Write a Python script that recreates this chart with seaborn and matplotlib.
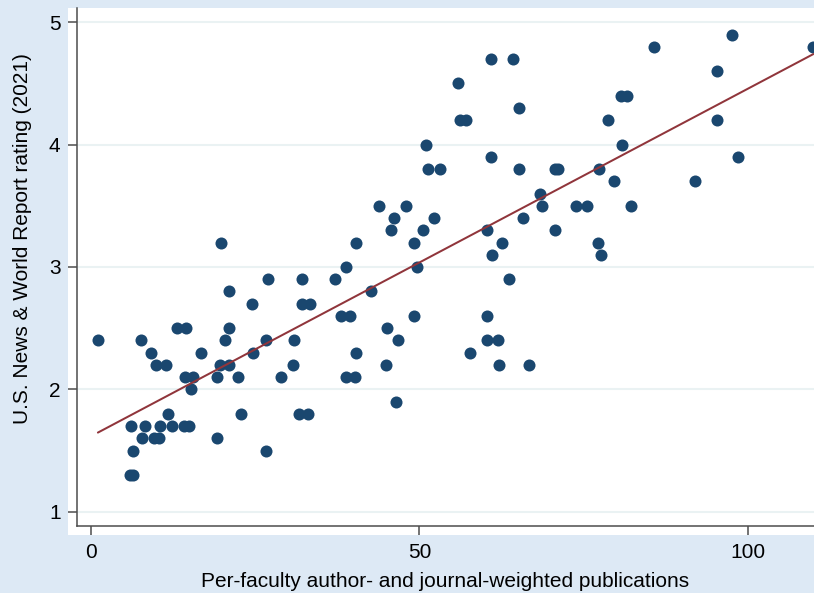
import numpy as np
import pandas as pd
import matplotlib
matplotlib.use("Agg")
import matplotlib.pyplot as plt
from matplotlib.patches import Rectangle
import seaborn as sns

# per-faculty weighted publications (x) and US News rating (y)
pubs = [1.1, 7.6, 9.1, 10.0, 11.5, 13.1, 14.5, 16.8, 21.0, 24.6,
        20.4, 21.0, 19.7, 21.1, 14.3, 15.6, 15.3, 19.2, 22.4, 24.7,
        26.6, 26.9, 32.2, 37.2, 32.2, 33.3, 28.9, 30.7, 30.9, 31.7,
        33.1, 22.8, 19.2, 26.7, 38.0, 39.5, 42.7, 38.9, 40.2, 40.4,
        45.0, 46.8, 44.9, 46.4, 49.1, 6.1, 8.3, 11.7, 10.6, 12.3,
        14.2, 15.0, 7.8, 9.7, 10.4, 6.5, 6.0, 6.4, 19.8, 51.0,
        51.3, 53.1, 60.9, 65.1, 56.1, 57.1, 43.9, 47.9, 46.1, 52.2,
        45.7, 50.5, 40.3, 49.2, 38.9, 49.6, 60.2, 62.6, 61.1, 63.6,
        65.7, 68.4, 68.6, 70.6, 70.6, 71.1, 60.2, 60.2, 61.9, 57.7,
        62.1, 66.6, 60.9, 64.3, 55.9, 65.2, 77.3, 78.7, 80.7, 81.5,
        80.8, 79.6, 85.6, 97.5, 109.9, 95.3, 95.3, 98.5, 91.9, 82.1,
        73.8, 75.5, 77.2, 77.6]
rating = [2.4, 2.4, 2.3, 2.2, 2.2, 2.5, 2.5, 2.3, 2.8, 2.7,
          2.4, 2.5, 2.2, 2.2, 2.1, 2.1, 2.0, 2.1, 2.1, 2.3,
          2.4, 2.9, 2.9, 2.9, 2.7, 2.7, 2.1, 2.2, 2.4, 1.8,
          1.8, 1.8, 1.6, 1.5, 2.6, 2.6, 2.8, 2.1, 2.1, 2.3,
          2.5, 2.4, 2.2, 1.9, 2.6, 1.7, 1.7, 1.8, 1.7, 1.7,
          1.7, 1.7, 1.6, 1.6, 1.6, 1.5, 1.3, 1.3, 3.2, 4.0,
          3.8, 3.8, 3.9, 3.8, 4.2, 4.2, 3.5, 3.5, 3.4, 3.4,
          3.3, 3.3, 3.2, 3.2, 3.0, 3.0, 3.3, 3.2, 3.1, 2.9,
          3.4, 3.6, 3.5, 3.3, 3.8, 3.8, 2.6, 2.4, 2.4, 2.3,
          2.2, 2.2, 4.7, 4.7, 4.5, 4.3, 3.8, 4.2, 4.4, 4.4,
          4.0, 3.7, 4.8, 4.9, 4.8, 4.6, 4.2, 3.9, 3.7, 3.5,
          3.5, 3.5, 3.2, 3.1]
x_ticks = [0, 50, 100]
y_ticks = [1, 2, 3, 4, 5]
x_title = "Per-faculty author- and journal-weighted publications"
y_title = "U.S. News & World Report rating (2021)"

df = pd.DataFrame({"pubs": pubs, "rating": rating})

sns.set_theme(style="white")
plt.rcParams["font.family"] = ["Liberation Sans", "DejaVu Sans"]

W, H = 814, 593
BG = "#dde9f5"
fig = plt.figure(figsize=(W / 100, H / 100), dpi=100, facecolor=BG)
# white plot region (a bit larger than the axes, Stata style)
fig.patches.append(Rectangle((68 / W, 58 / H), (W - 68) / W, 527 / H,
                             transform=fig.transFigure, facecolor="white",
                             edgecolor="none", zorder=-1))
ax = fig.add_axes([77 / W, 67 / H, (W - 77) / W, 518 / H])
ax.set_facecolor("white")

sns.scatterplot(data=df, x="pubs", y="rating", ax=ax, color="#1a476f",
                s=75, linewidth=0, zorder=3)
sns.regplot(data=df, x="pubs", y="rating", ax=ax, scatter=False, ci=None,
            color="#90353b", line_kws={"linewidth": 1.45, "zorder": 4})

ax.set_xlim(-2.08, 110.0)
ax.set_ylim(0.883, 5.117)
ax.set_xticks(x_ticks)
ax.set_yticks(y_ticks)
ax.yaxis.grid(True, color="#eaf2f3", linewidth=1.5, zorder=0)
ax.xaxis.grid(False)
ax.set_axisbelow(True)

for side in ["top", "right"]:
    ax.spines[side].set_visible(False)
for side in ["left", "bottom"]:
    ax.spines[side].set_color("#4d4d4d")
    ax.spines[side].set_linewidth(1.1)
ax.tick_params(axis="both", direction="out", length=6.5, width=1.1,
               color="#4d4d4d", labelsize=15, labelcolor="black",
               left=True, bottom=True)
ax.tick_params(axis="y", pad=5.3)
ax.tick_params(axis="x", pad=5.5)

ax.set_xlabel(x_title, fontsize=15, color="black")
ax.set_ylabel(y_title, fontsize=15, color="black")
ax.xaxis.label.set_va("center")
ax.yaxis.label.set_va("center")
ax.xaxis.set_label_coords(0.5, -0.1075)
ax.yaxis.set_label_coords(-0.0733, 0.5546)

fig.savefig("out.png", dpi=100, facecolor=BG)
